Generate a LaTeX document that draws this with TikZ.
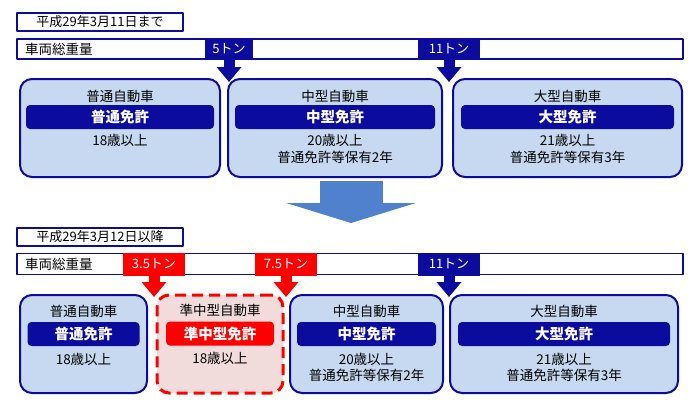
\documentclass[tikz,border=0pt]{standalone}
\usepackage{fontspec}
\setmainfont{Noto Sans CJK JP}
\usepackage{xcolor}
\usepackage{tikz}
\usetikzlibrary{arrows.meta,positioning,calc}
\definecolor{navyline}{HTML}{0B0B9E}
\definecolor{paleblue}{HTML}{C6D9F0}
\definecolor{palepink}{HTML}{F2DCDB}
\definecolor{alertred}{HTML}{FF0000}
\definecolor{flowblue}{HTML}{4F81CD}

\begin{document}
\begin{tikzpicture}[
		x=1pt,y=-1pt,
		>=Latex,
		line join=round,
		datebox/.style={draw=navyline, line width=1.5pt, fill=white, minimum width=166pt, minimum height=18pt, inner sep=0pt, font=\fontsize{13}{15}\selectfont},
		weightbar/.style={draw=navyline, line width=1.5pt, fill=white, minimum width=666pt, minimum height=20pt, inner sep=0pt},
		bartext/.style={font=\fontsize{13.5}{15}\selectfont, anchor=west, inner sep=0pt},
		tonmark/.style={text=white, minimum height=21.5pt, inner sep=0pt, font=\fontsize{13}{15}\selectfont},
		tonflow/.style={line width=11pt, -{Triangle[length=15pt,width=24pt]}},
		classbox/.style={draw=navyline, fill=paleblue, rounded corners=12pt, line width=2pt, minimum height=98pt, inner sep=0pt},
		newbox/.style={draw=alertred, fill=palepink, rounded corners=12pt, line width=3pt, dash pattern=on 11pt off 6pt, minimum height=98pt, inner sep=0pt},
		classtitle/.style={font=\fontsize{13.5}{15}\selectfont, inner sep=0pt},
		licence/.style={fill=navyline, text=white, rounded corners=4pt, minimum height=24pt, inner sep=0pt, font=\fontsize{14.5}{16}\selectfont\bfseries},
		reqtext/.style={font=\fontsize{13.5}{15}\selectfont, inner sep=0pt},
		bigflow/.style={draw=flowblue, line width=63pt, -{Triangle[length=20pt,width=129pt]}}
	]
	\useasboundingbox (0,0) rectangle (700,407);
	
	% Until 2017-03-11
	\node[datebox] (olddate) at (100,22) {平成29年3月11日まで};
	\node[weightbar] (oldbar) at (350,49) {};
	\node[bartext] (oldbarlabel) at (25,49) {車両総重量};
	\node[tonmark, fill=navyline, minimum width=48pt] (oldfive) at (229,49) {5トン};
	\node[tonmark, fill=navyline, minimum width=62pt] (oldeleven) at (449,49) {11トン};
	\coordinate (oldfivetip) at (229,82);
	\coordinate (oldeleventip) at (449,82);
	\draw[tonflow, navyline] (oldfive.south) -- (oldfivetip);
	\draw[tonflow, navyline] (oldeleven.south) -- (oldeleventip);
	
	% Old classes
	\node[classbox, minimum width=200pt] (oldstd) at (120,128) {};
	\node[classbox, minimum width=214pt] (oldmid) at (335,128) {};
	\node[classbox, minimum width=229pt] (oldlarge) at (567.5,128) {};
	
	\node[classtitle] at ([yshift=-18pt]oldstd.north) {普通自動車};
	\node[licence, minimum width=188pt] at ([yshift=-39pt]oldstd.north) {普通免許};
	\node[reqtext] at ([yshift=-62pt]oldstd.north) {18歳以上};
	
	\node[classtitle] at ([yshift=-18pt]oldmid.north) {中型自動車};
	\node[licence, minimum width=200pt] at ([yshift=-39pt]oldmid.north) {中型免許};
	\node[reqtext] at ([yshift=-62pt]oldmid.north) {20歳以上};
	\node[reqtext] at ([yshift=-79pt]oldmid.north) {普通免許等保有2年};
	
	\node[classtitle] at ([yshift=-18pt]oldlarge.north) {大型自動車};
	\node[licence, minimum width=213pt] at ([yshift=-39pt]oldlarge.north) {大型免許};
	\node[reqtext] at ([yshift=-62pt]oldlarge.north) {21歳以上};
	\node[reqtext] at ([yshift=-79pt]oldlarge.north) {普通免許等保有3年};
	
	% Change arrow
	\coordinate (bigtop) at (351,181);
	\coordinate (bigtip) at (351,223);
	\draw[bigflow] (bigtop) -- (bigtip);
	
	% From 2017-03-12
	\node[datebox] (newdate) at (100,237) {平成29年3月12日以降};
	\node[weightbar, minimum height=21pt] (newbar) at (350,264) {};
	\node[bartext] (newbarlabel) at (25,264) {車両総重量};
	\node[tonmark, fill=alertred, minimum width=62pt, minimum height=23pt] (newthree) at (154,264) {3.5トン};
	\node[tonmark, fill=alertred, minimum width=62pt, minimum height=23pt] (newseven) at (286,264) {7.5トン};
	\node[tonmark, fill=navyline, minimum width=62pt, minimum height=23pt] (neweleven) at (449,264) {11トン};
	\coordinate (newthreetip) at (154,297);
	\coordinate (newseventip) at (286,297);
	\coordinate (neweleventip) at (449,297);
	\draw[tonflow, alertred] (newthree.south) -- (newthreetip);
	\draw[tonflow, alertred] (newseven.south) -- (newseventip);
	\draw[tonflow, navyline] (neweleven.south) -- (neweleventip);
	
	% New classes
	\node[classbox, minimum width=127pt] (newstd) at (83.5,344) {};
	\node[newbox, minimum width=126pt] (newsemi) at (220,344) {};
	\node[classbox, minimum width=153pt] (newmid) at (366.5,344) {};
	\node[classbox, minimum width=228pt] (newlarge) at (564,344) {};
	
	\node[classtitle] at ([yshift=-17pt]newstd.north) {普通自動車};
	\node[licence, minimum width=112pt] at ([yshift=-40pt]newstd.north) {普通免許};
	\node[reqtext] at ([yshift=-65pt]newstd.north) {18歳以上};
	
	\node[classtitle] at ([yshift=-17pt]newsemi.north) {準中型自動車};
	\node[licence, fill=alertred, minimum width=108pt] at ([yshift=-40pt]newsemi.north) {準中型免許};
	\node[reqtext] at ([yshift=-65pt]newsemi.north) {18歳以上};
	
	\node[classtitle] at ([yshift=-17pt]newmid.north) {中型自動車};
	\node[licence, minimum width=139pt] at ([yshift=-40pt]newmid.north) {中型免許};
	\node[reqtext] at ([yshift=-65pt]newmid.north) {20歳以上};
	\node[reqtext] at ([yshift=-81pt]newmid.north) {普通免許等保有2年};
	
	\node[classtitle] at ([yshift=-17pt]newlarge.north) {大型自動車};
	\node[licence, minimum width=212pt] at ([yshift=-40pt]newlarge.north) {大型免許};
	\node[reqtext] at ([yshift=-65pt]newlarge.north) {21歳以上};
	\node[reqtext] at ([yshift=-81pt]newlarge.north) {普通免許等保有3年};
	
\end{tikzpicture}
\end{document}
